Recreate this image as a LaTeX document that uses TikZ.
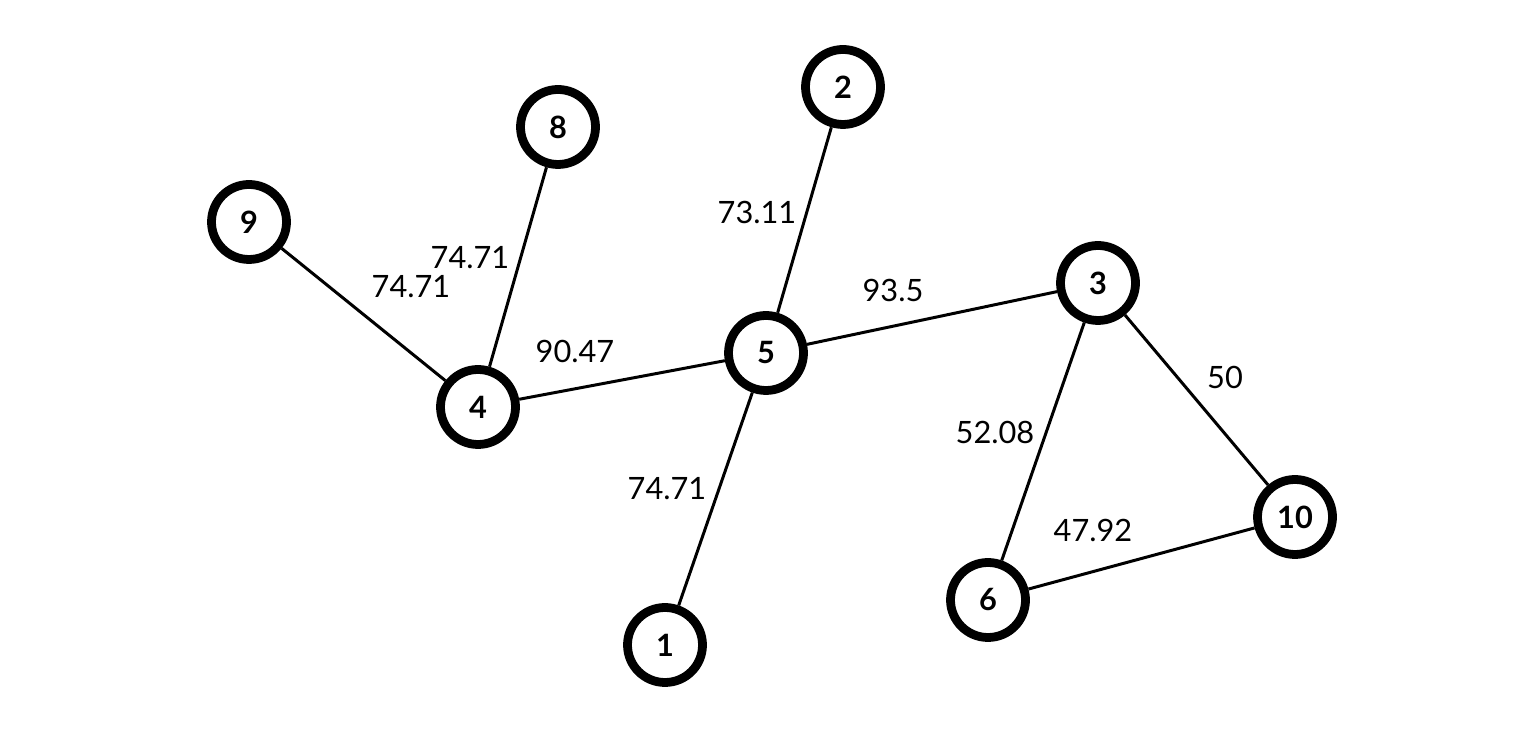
\documentclass[tikz,border=0pt]{standalone}
\usepackage{fontspec}
\setmainfont{Lato}
\usepackage{tikz}
\usetikzlibrary{positioning,calc}

\tikzset{
	vertex/.style={circle, draw=black, line width=5pt, fill=white, minimum size=1.5cm, inner sep=0pt, font=\fontsize{17.5}{20}\selectfont\bfseries},
	edge/.style={draw=black, line width=1.7pt},
	weight/.style={inner sep=0pt, font=\fontsize{17.5}{20}\selectfont}
}

\begin{document}
\begin{tikzpicture}

	\useasboundingbox (0,0) rectangle (30.72,15.08);
	
	% vertices
	\node[vertex] (n1) at (13.30,2.18) {1};
	\node[vertex] (n2) at (16.86,13.34) {2};
	\node[vertex] (n3) at (21.96,9.42) {3};
	\node[vertex] (n4) at (9.56,6.94) {4};
	\node[vertex] (n5) at (15.32,8.02) {5};
	\node[vertex] (n6) at (19.76,3.08) {6};
	\node[vertex] (n8) at (11.16,12.54) {8};
	\node[vertex] (n9) at (4.98,10.64) {9};
	\node[vertex] (n10) at (25.90,4.74) {10};
	
	% edges
	\draw[edge] (n9) -- (n4);
	\draw[edge] (n8) -- (n4);
	\draw[edge] (n4) -- (n5);
	\draw[edge] (n2) -- (n5);
	\draw[edge] (n5) -- (n1);
	\draw[edge] (n5) -- (n3);
	\draw[edge] (n3) -- (n6);
	\draw[edge] (n3) -- (n10);
	\draw[edge] (n6) -- (n10);
	
	% weights
	\node[weight] (w25) at (15.14,10.84) {73.11};
	\node[weight] (w84) at (9.40,9.92) {74.71};
	\node[weight] (w94) at (8.22,9.34) {74.71};
	\node[weight] (w45) at (11.50,8.06) {90.47};
	\node[weight] (w53) at (17.86,9.28) {93.5};
	\node[weight] (w310) at (24.50,7.54) {50};
	\node[weight] (w36) at (19.90,6.44) {52.08};
	\node[weight] (w51) at (13.34,5.30) {74.71};
	\node[weight] (w610) at (21.86,4.48) {47.92};
	
\end{tikzpicture}
\end{document}
